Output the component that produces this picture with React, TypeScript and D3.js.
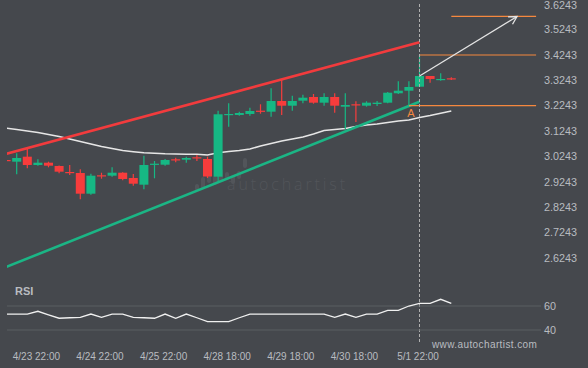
import React from 'react';
import * as d3 from 'd3';

const W = 588;
const H = 368;

// H4 candles: [open, high, low, close]
const ohlc: [number, number, number, number][] = [
  [3.0101, 3.0141, 3.0062, 3.0062],
  [3.0034, 3.0366, 2.9537, 3.0180],
  [3.0232, 3.0535, 2.9774, 2.9904],
  [2.9904, 3.0129, 2.9877, 2.9995],
  [2.9995, 3.0034, 2.9813, 2.9877],
  [2.9865, 2.9884, 2.9577, 2.9640],
  [2.9628, 2.9904, 2.9510, 2.9588],
  [2.9588, 2.9734, 2.8551, 2.8772],
  [2.8772, 2.9561, 2.8733, 2.9482],
  [2.9498, 2.9600, 2.9364, 2.9458],
  [2.9482, 2.9813, 2.9443, 2.9600],
  [2.9600, 2.9616, 2.9301, 2.9352],
  [2.9391, 2.9549, 2.9088, 2.9166],
  [2.9127, 3.0271, 2.8946, 2.9904],
  [2.9916, 3.0062, 2.9379, 2.9955],
  [2.9916, 3.0141, 2.9877, 3.0101],
  [3.0129, 3.0192, 3.0011, 3.0090],
  [3.0113, 3.0232, 2.9995, 3.0180],
  [3.0208, 3.0299, 3.0062, 3.0168],
  [3.0141, 3.0232, 2.9391, 2.9450],
  [2.9443, 3.2046, 2.9245, 3.1904],
  [3.1877, 3.2338, 3.1415, 3.1916],
  [3.1877, 3.2007, 3.1849, 3.1955],
  [3.1916, 3.2164, 3.1849, 3.2034],
  [3.2046, 3.2299, 3.1928, 3.2007],
  [3.2007, 3.2930, 3.1809, 3.2429],
  [3.2429, 3.3257, 3.1877, 3.2243],
  [3.2243, 3.2638, 3.2046, 3.2429],
  [3.2441, 3.2677, 3.2338, 3.2559],
  [3.2587, 3.2705, 3.2322, 3.2362],
  [3.2362, 3.2733, 3.2243, 3.2587],
  [3.2587, 3.2733, 3.1967, 3.2243],
  [3.2204, 3.2733, 3.1312, 3.2271],
  [3.2299, 3.2417, 3.1600, 3.2259],
  [3.2243, 3.2417, 3.2204, 3.2362],
  [3.2310, 3.2429, 3.2232, 3.2362],
  [3.2362, 3.2784, 3.2338, 3.2756],
  [3.2733, 3.3206, 3.2705, 3.2835],
  [3.2835, 3.3206, 3.2243, 3.2981],
  [3.2993, 3.4243, 3.2993, 3.3415],
  [3.3415, 3.3415, 3.3151, 3.3297],
  [3.3257, 3.3521, 3.3230, 3.3297],
  [3.3324, 3.3364, 3.3257, 3.3285],
];

const ma = [
  3.1356, 3.1305, 3.1245, 3.1186, 3.1107, 3.1028, 3.0930, 3.0831, 3.0733, 3.0634,
  3.0555, 3.0476, 3.0429, 3.0389, 3.0366, 3.0346, 3.0338, 3.0326, 3.0326, 3.0299,
  3.0389, 3.0437, 3.0476, 3.0535, 3.0654, 3.0752, 3.0851, 3.0930, 3.1009, 3.1127,
  3.1265, 3.1305, 3.1344, 3.1423, 3.1482, 3.1521, 3.1581, 3.1640, 3.1679, 3.1778,
  3.1857, 3.1948, 3.2034,
];

const rsi = [
  53.3, 53.3, 53.3, 55.6, 52.6, 49.8, 50.2, 50.6, 53.3, 50.6,
  53.3, 53.3, 50.6, 50.2, 49.8, 53.3, 49.8, 53.3, 50.2, 46.9,
  46.9, 46.9, 50.2, 53.3, 53.3, 53.3, 53.3, 53.3, 53.3, 53.3,
  53.3, 50.6, 53.3, 50.6, 53.3, 53.3, 56.4, 56.4, 60.0, 62.2,
  62.2, 65.6, 62.2,
];

const priceTicks = [3.6243, 3.5243, 3.4243, 3.3243, 3.2243, 3.1243, 3.0243, 2.9243, 2.8243, 2.7243, 2.6243];
const rsiTicks = [60, 40];
const dateTicks = [
  { i: 3, label: '4/23 22:00' },
  { i: 9, label: '4/24 22:00' },
  { i: 15, label: '4/25 22:00' },
  { i: 21, label: '4/28 18:00' },
  { i: 27, label: '4/29 18:00' },
  { i: 33, label: '4/30 18:00' },
  { i: 39, label: '5/1 22:00' },
];

// channel up pattern
const resistance: [number, number][] = [[0, 3.0346], [39, 3.4744]];
const support: [number, number][] = [[0, 2.588], [39, 3.2401]];
const levels = [
  { from: 39, to: 50, price: 3.4243 },
  { from: 38, to: 50, price: 3.2243 },
  { from: 42, to: 50, price: 3.577 },
];
const forecast: [number, number][] = [[39, 3.3415], [48.2, 3.5762]];
const patternEnd = 39;
const pointA = { i: 38, price: 3.2243 };

const BG = '#45484d';
const UP = '#16b884';
const DOWN = '#f73c3c';
const ORANGE = '#f5883f';
const TXT = '#b9bcc0';
const FONT = '"Liberation Sans", Arial, sans-serif';

export default function App() {
  const x = d3.scaleLinear().domain([0, 50]).range([6.1, 536.1]);
  const y = d3.scaleLinear().domain([2.6243, 3.6243]).range([257.8, 4.3]);
  const yr = d3.scaleLinear().domain([40, 60]).range([330, 306]);

  const maLine = d3.line<number>().x((_, i) => x(i)).y(d => y(d));
  const rsiLine = d3.line<number>().x((_, i) => Math.max(7, x(i))).y(d => yr(d));
  const seg = d3.line<[number, number]>().x(d => x(d[0])).y(d => y(d[1]));

  const bw = 9;

  // arrow head
  const [fx0, fy0] = [x(forecast[0][0]), y(forecast[0][1])];
  const [fx1, fy1] = [x(forecast[1][0]), y(forecast[1][1])];
  const ang = Math.atan2(fy1 - fy0, fx1 - fx0);
  const hl = 9;
  const head = [ang + Math.PI - 0.5, ang + Math.PI + 0.5].map(a => [fx1 + hl * Math.cos(a), fy1 + hl * Math.sin(a)]);

  const logoBars = [
    [195, 184, 4, 7], [201, 177, 4, 12], [207, 171, 4, 12], [213, 176, 4, 9],
    [219, 169, 4, 13], [225, 172, 4, 8], [231, 175, 4, 9], [237, 171, 4, 8], [243, 158, 4, 10],
  ];

  return (
    <div style={{ position: 'fixed', left: 0, top: 0, width: W, height: H, background: BG }}>
      <svg width={W} height={H} style={{ display: 'block', fontFamily: FONT }}>
        <defs>
          <clipPath id="plot">
            <rect x={7} y={0} width={533} height={270} />
          </clipPath>
        </defs>
        <rect width={W} height={H} fill={BG} />

        {/* watermark */}
        <g fill="#52555a">
          {logoBars.map((b, k) => (
            <rect key={k} x={b[0]} y={b[1]} width={b[2]} height={b[3]} rx={2} />
          ))}
          <text x={227} y={190} fontSize={16} fontFamily='"Open Sans", sans-serif' fontWeight={300} letterSpacing={2.9}>
            autochartist
          </text>
        </g>

        <g clipPath="url(#plot)">
          <path d={maLine(ma) || ''} fill="none" stroke="#e6e6e6" strokeWidth={1.6} />
          <path d={seg(resistance) || ''} stroke="#f23b3d" strokeWidth={2.6} fill="none" />
          <path d={seg(support) || ''} stroke="#1bb585" strokeWidth={2.6} fill="none" />

          {ohlc.map(([o, h, l, c], i) => {
            const col = c >= o ? UP : DOWN;
            const top = y(Math.max(o, c));
            const bot = y(Math.min(o, c));
            return (
              <g key={i}>
                <line x1={x(i)} x2={x(i)} y1={y(h)} y2={y(l)} stroke={col} strokeWidth={1.2} />
                <rect x={x(i) - bw / 2} y={top} width={bw} height={Math.max(1.2, bot - top)} fill={col} />
              </g>
            );
          })}

          {levels.map((lv, k) => (
            <line key={k} x1={x(lv.from)} x2={x(lv.to)} y1={y(lv.price)} y2={y(lv.price)} stroke={ORANGE} strokeWidth={1.2} />
          ))}

          <line x1={fx0} y1={fy0} x2={fx1} y2={fy1} stroke="#e4e4e4" strokeWidth={1.3} />
          <polyline
            points={`${head[0][0]},${head[0][1]} ${fx1},${fy1} ${head[1][0]},${head[1][1]}`}
            fill="none"
            stroke="#e4e4e4"
            strokeWidth={1.3}
          />
          <text x={x(pointA.i) + 2} y={y(pointA.price) + 11} fill={ORANGE} fontSize={11} textAnchor="middle">
            A
          </text>
        </g>

        {/* pattern end marker */}
        <line x1={x(patternEnd)} x2={x(patternEnd)} y1={4} y2={343} stroke="#b0b0b0" strokeWidth={1} strokeDasharray="3 2" />

        {/* price axis */}
        {priceTicks.map(p => (
          <text key={p} x={544} y={Math.max(y(p), 5.6)} dy="0.35em" fontSize={10.8} fill={TXT}>
            {p.toFixed(4)}
          </text>
        ))}

        {/* RSI panel */}
        <text x={15} y={295} fontSize={11} fontWeight="bold" fill={TXT}>RSI</text>
        {rsiTicks.map(v => (
          <g key={v}>
            <line x1={7} x2={541} y1={yr(v)} y2={yr(v)} stroke="#5b5f62" strokeWidth={1} />
            <text x={544} y={yr(v)} dy="0.35em" fontSize={10.8} fill={TXT}>{v}</text>
          </g>
        ))}
        <path d={rsiLine(rsi) || ''} fill="none" stroke="#f0f0f0" strokeWidth={1.3} />

        <text x={432} y={348} fontSize={10} fill={TXT} letterSpacing={0.4}>www.autochartist.com</text>

        {/* time axis */}
        {dateTicks.map(t => (
          <text key={t.i} x={x(t.i) - 1.5} y={360} fontSize={10} fill={TXT} textAnchor="middle">
            {t.label}
          </text>
        ))}
      </svg>
    </div>
  );
}
